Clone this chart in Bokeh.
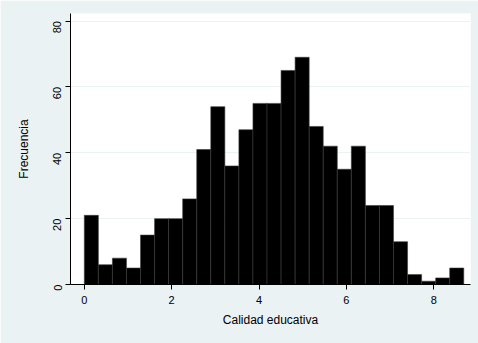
import math
import numpy as np
from bokeh.plotting import figure
from bokeh.models import FixedTicker, ColumnDataSource
from bokeh.embed import file_html
from bokeh.resources import INLINE

# Data
bin_start = 0.0
bin_width = 0.3217
counts = [21, 6, 8, 5, 15, 20, 20, 26, 41, 54, 36, 47, 55, 55, 65, 69,
          48, 42, 35, 42, 24, 24, 13, 3, 1, 2, 5]
x_ticks = [0, 2, 4, 6, 8]
y_ticks = [0, 20, 40, 60, 80]
x_title = "Calidad educativa"
y_title = "Frecuencia"

n = len(counts)
left = bin_start + bin_width * np.arange(n)
right = left + bin_width
src = ColumnDataSource(dict(left=left, right=right, top=counts, bottom=[0] * n))

FONT = "Liberation Sans"
BG = "#EAF2F3"

p = figure(width=478, height=343, x_range=(-0.316, 8.84), y_range=(0, 82.3),
           output_backend="svg", toolbar_location=None,
           min_border_left=70, min_border_right=8, min_border_top=13,
           min_border_bottom=59)
p.border_fill_color = BG
p.background_fill_color = "white"
p.outline_line_color = None

p.quad(left="left", right="right", top="top", bottom="bottom", source=src,
       fill_color="black", line_color="#3a3a3a", line_width=0.6)

p.xgrid.grid_line_color = None
p.ygrid.grid_line_color = BG
p.ygrid.grid_line_width = 1.2
p.ygrid.ticker = FixedTicker(ticks=y_ticks)

p.xaxis.ticker = FixedTicker(ticks=x_ticks)
p.yaxis.ticker = FixedTicker(ticks=y_ticks)
p.yaxis.major_label_orientation = math.pi / 2

for ax in (p.xaxis, p.yaxis):
    ax.axis_line_color = "black"
    ax.axis_line_width = 1
    ax.major_tick_line_color = "black"
    ax.major_tick_out = 5
    ax.major_tick_in = 0
    ax.minor_tick_line_color = None
    ax.major_label_text_font = FONT
    ax.major_label_text_font_size = "11px"
    ax.major_label_text_color = "black"
    ax.axis_label_text_font = FONT
    ax.axis_label_text_font_size = "12px"
    ax.axis_label_text_font_style = "normal"
    ax.axis_label_text_color = "black"

p.xaxis.major_label_standoff = 6
p.yaxis.major_label_standoff = 8
p.xaxis.axis_label = x_title
p.yaxis.axis_label = y_title
p.xaxis.axis_label_standoff = 6
p.yaxis.axis_label_standoff = 16

open("out.html", "w").write(file_html(p, INLINE))
